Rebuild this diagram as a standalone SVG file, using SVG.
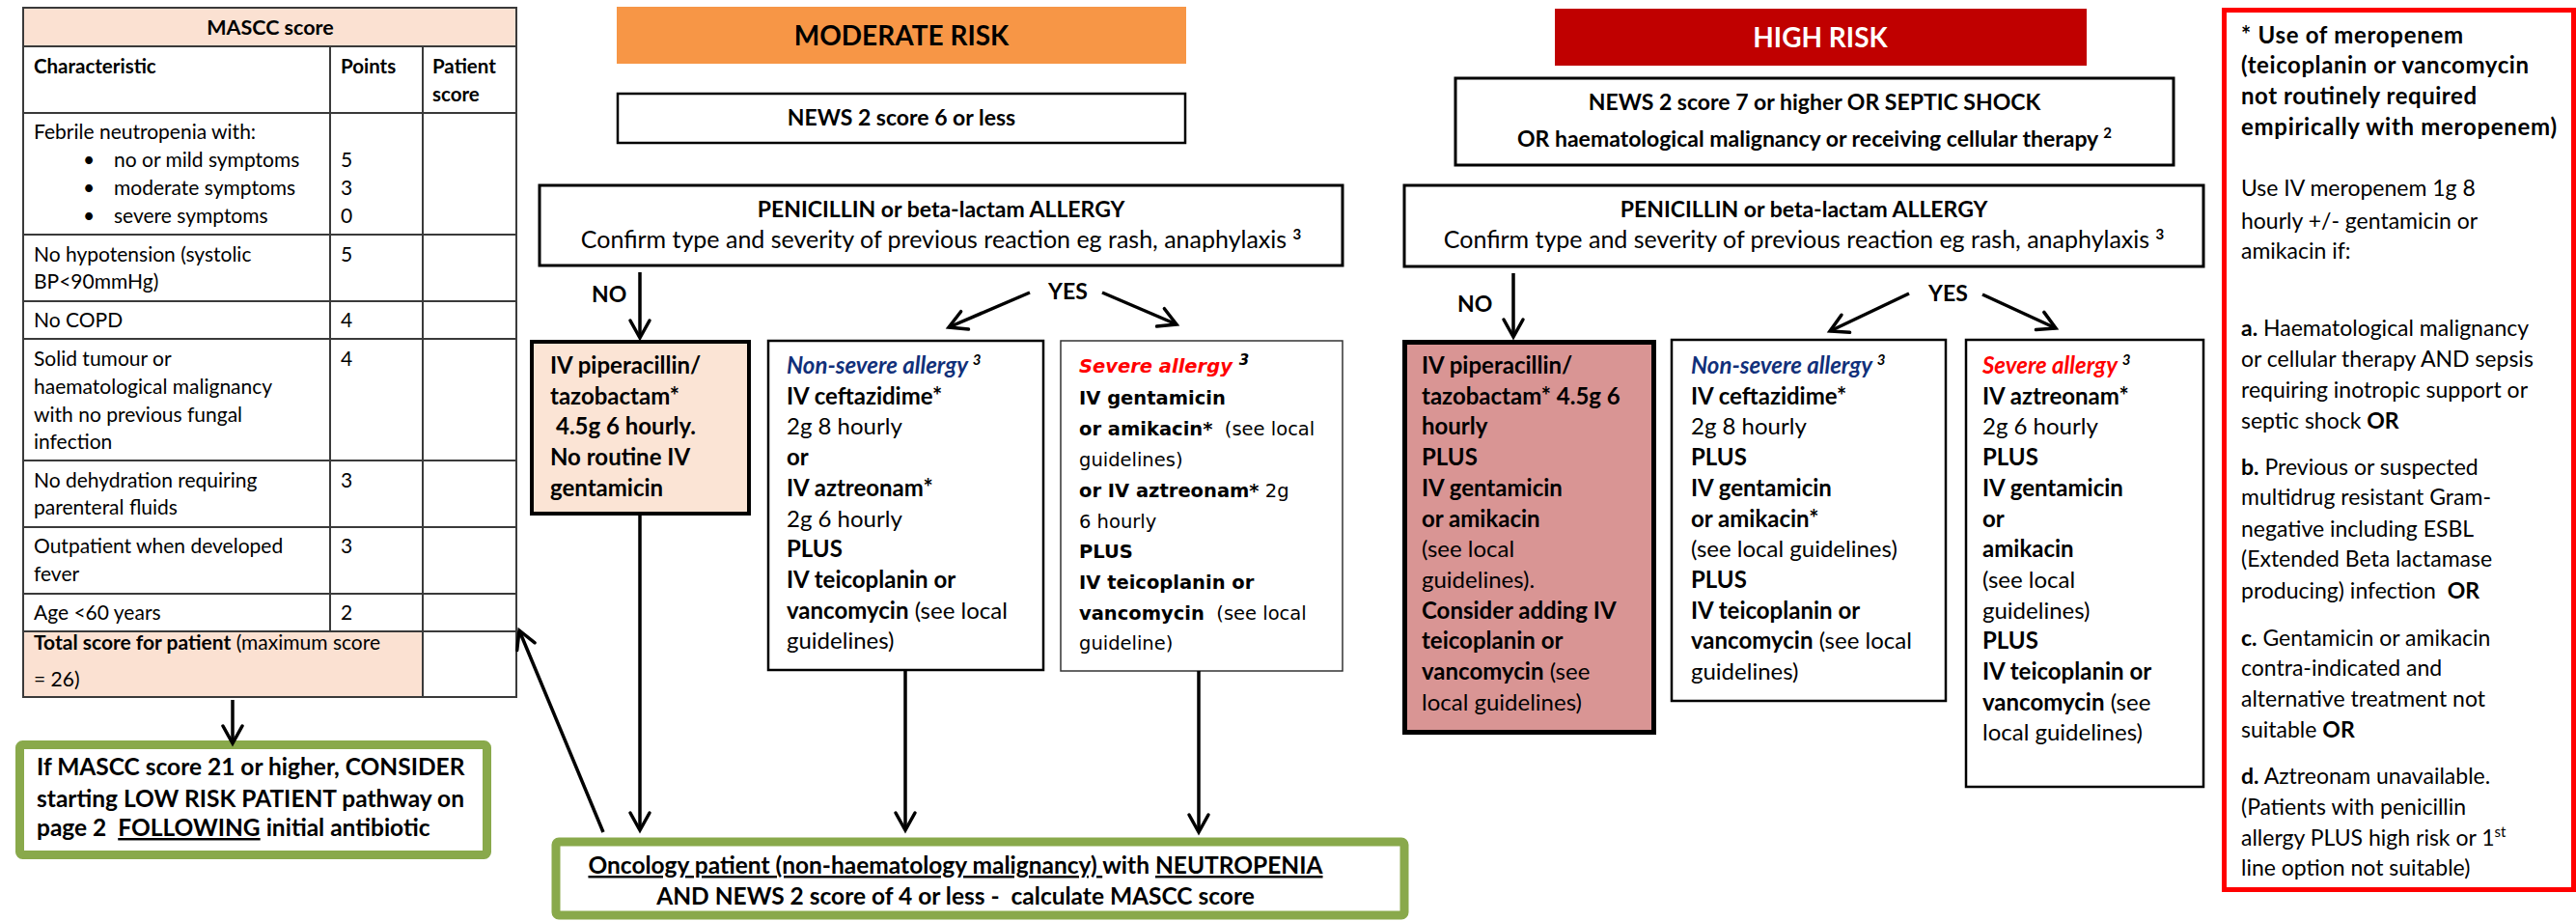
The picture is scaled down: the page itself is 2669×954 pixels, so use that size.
<svg xmlns="http://www.w3.org/2000/svg" width="2669" height="954" viewBox="0 0 2669 954">
<defs>
<style>
text{font-family:Lato,"Liberation Sans",sans-serif;fill:#000;white-space:pre}
.f{font-size:24px}
.h{font-size:23px}
.g{font-size:24.5px}
.m{font-size:21px}
.mb{font-size:20.5px;font-weight:700}
.r{font-size:23px}
.d{font-family:"DejaVu Sans",sans-serif;font-size:19.5px}
.b{font-weight:700}
.it{font-style:italic}
.c{text-anchor:middle}
.navy{fill:#11307A}
.red{fill:#FF0000}
.sup{font-size:15px}
.box{fill:#fff;stroke:#000;stroke-width:2.5}
.grid{stroke:#3a3a3a;stroke-width:2;fill:none}
.con{stroke:#000;stroke-width:3.5;fill:none;marker-end:url(#ah)}
.green{fill:#fff;stroke:#89A94B;stroke-width:9}
.u{text-decoration:underline}
</style>
<marker id="ah" viewBox="-22 -14 26 28" refX="0" refY="0" markerWidth="26" markerHeight="28" markerUnits="userSpaceOnUse" orient="auto">
<path d="M-18,-10 L0,0 L-18,10" fill="none" stroke="#000" stroke-width="3.5" stroke-linecap="round" stroke-linejoin="miter"/>
</marker>
</defs>
<rect width="2669" height="954" fill="#fff"/>

<g id="mascc-table">
<rect x="24" y="8" width="511" height="40" fill="#FBE1D2"/>
<rect x="24" y="654" width="414" height="68" fill="#FBE1D2"/>
<rect x="24" y="8" width="511" height="714" class="grid"/>
<path class="grid" d="M24 48H535M24 117H535M24 243H535M24 312H535M24 351H535M24 477H535M24 546H535M24 615H535M24 654H535M342 48V654M438 48V722"/>
<text class="mb c" style="font-size:21.5px" x="280" y="36">MASCC score</text>
<text class="mb" x="35" y="76">Characteristic</text>
<text class="mb" x="353" y="76">Points</text>
<text class="mb" x="448" y="76">Patient</text>
<text class="mb" x="448" y="105">score</text>
<text class="m" x="35" y="144">Febrile neutropenia with:</text>
<text class="m" x="86" y="173">•</text><text class="m" x="118" y="173">no or mild symptoms</text><text class="m" x="353" y="173">5</text>
<text class="m" x="86" y="202">•</text><text class="m" x="118" y="202">moderate symptoms</text><text class="m" x="353" y="202">3</text>
<text class="m" x="86" y="231">•</text><text class="m" x="118" y="231">severe symptoms</text><text class="m" x="353" y="231">0</text>
<text class="m" x="35" y="271">No hypotension (systolic</text><text class="m" x="353" y="271">5</text>
<text class="m" x="35" y="299">BP&lt;90mmHg)</text>
<text class="m" x="35" y="339">No COPD</text><text class="m" x="353" y="339">4</text>
<text class="m" x="35" y="379">Solid tumour or</text><text class="m" x="353" y="379">4</text>
<text class="m" x="35" y="408">haematological malignancy</text>
<text class="m" x="35" y="437">with no previous fungal</text>
<text class="m" x="35" y="465">infection</text>
<text class="m" x="35" y="505">No dehydration requiring</text><text class="m" x="353" y="505">3</text>
<text class="m" x="35" y="533">parenteral fluids</text>
<text class="m" x="35" y="573">Outpatient when developed</text><text class="m" x="353" y="573">3</text>
<text class="m" x="35" y="602">fever</text>
<text class="m" x="35" y="642">Age &lt;60 years</text><text class="m" x="353" y="642">2</text>
<text class="m" x="35" y="673"><tspan class="b">Total score for patient</tspan> (maximum score</text>
<text class="m" x="35" y="711">= 26)</text>
</g>

<g id="mascc-low-risk">
<rect x="20.5" y="771.5" width="484" height="114" rx="3" class="green"/>
<text class="g b" x="38" y="803">If MASCC score 21 or higher, CONSIDER</text>
<text class="g b" x="38" y="836">starting LOW RISK PATIENT pathway on</text>
<text class="g b" x="38" y="866">page 2  <tspan class="u">FOLLOWING</tspan> initial antibiotic</text>
</g>

<g id="oncology-start">
<rect x="576" y="872" width="879" height="76" rx="3" class="green"/>
<text class="g b c" x="990" y="905"><tspan class="u">Oncology patient (non-haematology malignancy) </tspan>with <tspan class="u">NEUTROPENIA</tspan></text>
<text class="g b c" x="990" y="937">AND NEWS 2 score of 4 or less -  calculate MASCC score</text>
</g>

<g id="moderate-risk-header">
<rect x="639" y="7" width="590" height="59" fill="#F79646"/>
<text class="b c" style="font-size:28px" x="934" y="47">MODERATE RISK</text>
</g>
<g id="moderate-news">
<rect x="640" y="97" width="588" height="51" class="box"/>
<text class="h b c" x="934" y="130">NEWS 2 score 6 or less</text>
</g>
<g id="moderate-allergy">
<rect x="559" y="192" width="832" height="83" class="box" style="stroke-width:3"/>
<text class="h b c" x="975" y="225">PENICILLIN or beta-lactam ALLERGY</text>
<text class="c" style="font-size:25px" x="975" y="257">Confirm type and severity of previous reaction eg rash, anaphylaxis <tspan class="b sup" dy="-9">3</tspan></text>
</g>
<g id="moderate-no-allergy">
<rect x="551" y="354" width="225" height="178" fill="#FBE4D5" stroke="#000" stroke-width="4"/>
<text class="f b" x="570" y="387">IV piperacillin/</text>
<text class="f b" x="570" y="418.7">tazobactam*</text>
<text class="f b" x="576" y="450.4">4.5g 6 hourly.</text>
<text class="f b" x="570" y="482.1">No routine IV</text>
<text class="f b" x="570" y="513.8">gentamicin</text>
</g>
<g id="moderate-non-severe">
<rect x="796" y="353" width="285" height="341" class="box"/>
<text class="f b it" x="815" y="387"><tspan class="navy">Non-severe allergy</tspan> <tspan class="sup" dy="-9">3</tspan></text>
<text class="f b" x="815" y="418.7">IV ceftazidime*</text>
<text class="f" x="815" y="450.4">2g 8 hourly</text>
<text class="f b" x="815" y="482.1">or</text>
<text class="f b" x="815" y="513.8">IV aztreonam*</text>
<text class="f" x="815" y="545.5">2g 6 hourly</text>
<text class="f b" x="815" y="577.2">PLUS</text>
<text class="f b" x="815" y="608.9">IV teicoplanin or</text>
<text class="f" x="815" y="640.6"><tspan class="b">vancomycin</tspan> (see local</text>
<text class="f" x="815" y="672.3">guidelines)</text>
</g>
<g id="moderate-severe">
<rect x="1099" y="353" width="292" height="342" fill="#fff" stroke="#333" stroke-width="1.5"/>
<text class="d b it" x="1118" y="386"><tspan class="red">Severe allergy</tspan> <tspan class="sup" dy="-8">3</tspan></text>
<text class="d b" x="1118" y="419">IV gentamicin</text>
<text class="d" x="1118" y="451"><tspan class="b">or amikacin*</tspan>  (see local</text>
<text class="d" x="1118" y="483">guidelines)</text>
<text class="d" x="1118" y="515"><tspan class="b">or IV aztreonam*</tspan> 2g</text>
<text class="d" x="1118" y="547">6 hourly</text>
<text class="d b" x="1118" y="578">PLUS</text>
<text class="d b" x="1118" y="610">IV teicoplanin or</text>
<text class="d" x="1118" y="642"><tspan class="b">vancomycin</tspan>  (see local</text>
<text class="d" x="1118" y="673">guideline)</text>
</g>

<g id="high-risk-header">
<rect x="1611" y="9" width="551" height="59" fill="#C00000"/>
<text class="b c" style="font-size:28px;fill:#fff" x="1886" y="49">HIGH RISK</text>
</g>
<g id="high-news">
<rect x="1508" y="81" width="744" height="90" class="box" style="stroke-width:3"/>
<text class="h b c" x="1880" y="114">NEWS 2 score 7 or higher OR SEPTIC SHOCK</text>
<text class="h b c" x="1880" y="152">OR haematological malignancy or receiving cellular therapy <tspan class="sup" dy="-9">2</tspan></text>
</g>
<g id="high-allergy">
<rect x="1455" y="192" width="828" height="84" class="box" style="stroke-width:3"/>
<text class="h b c" x="1869" y="225">PENICILLIN or beta-lactam ALLERGY</text>
<text class="c" style="font-size:25px" x="1869" y="257">Confirm type and severity of previous reaction eg rash, anaphylaxis <tspan class="b sup" dy="-9">3</tspan></text>
</g>
<g id="high-no-allergy">
<rect x="1455.5" y="354.5" width="258" height="404" fill="#D99594" stroke="#000" stroke-width="5"/>
<text class="f b" x="1473" y="387">IV piperacillin/</text>
<text class="f b" x="1473" y="418.7">tazobactam* 4.5g 6</text>
<text class="f b" x="1473" y="450.4">hourly</text>
<text class="f b" x="1473" y="482.1">PLUS</text>
<text class="f b" x="1473" y="513.8">IV gentamicin</text>
<text class="f b" x="1473" y="545.5">or amikacin</text>
<text class="f" x="1473" y="577.2">(see local</text>
<text class="f" x="1473" y="608.9">guidelines).</text>
<text class="f b" x="1473" y="640.6">Consider adding IV</text>
<text class="f b" x="1473" y="672.3">teicoplanin or</text>
<text class="f" x="1473" y="704"><tspan class="b">vancomycin</tspan> (see</text>
<text class="f" x="1473" y="735.7">local guidelines)</text>
</g>
<g id="high-non-severe">
<rect x="1732" y="352" width="284" height="374" class="box"/>
<text class="f b it" x="1752" y="387"><tspan class="navy">Non-severe allergy</tspan> <tspan class="sup" dy="-9">3</tspan></text>
<text class="f b" x="1752" y="418.7">IV ceftazidime*</text>
<text class="f" x="1752" y="450.4">2g 8 hourly</text>
<text class="f b" x="1752" y="482.1">PLUS</text>
<text class="f b" x="1752" y="513.8">IV gentamicin</text>
<text class="f b" x="1752" y="545.5">or amikacin*</text>
<text class="f" x="1752" y="577.2">(see local guidelines)</text>
<text class="f b" x="1752" y="608.9">PLUS</text>
<text class="f b" x="1752" y="640.6">IV teicoplanin or</text>
<text class="f" x="1752" y="672.3"><tspan class="b">vancomycin</tspan> (see local</text>
<text class="f" x="1752" y="704">guidelines)</text>
</g>
<g id="high-severe">
<rect x="2037" y="352" width="246" height="463" class="box"/>
<text class="f b it" x="2054" y="387"><tspan class="red">Severe allergy</tspan> <tspan class="sup" dy="-9">3</tspan></text>
<text class="f b" x="2054" y="418.7">IV aztreonam*</text>
<text class="f" x="2054" y="450.4">2g 6 hourly</text>
<text class="f b" x="2054" y="482.1">PLUS</text>
<text class="f b" x="2054" y="513.8">IV gentamicin</text>
<text class="f b" x="2054" y="545.5">or</text>
<text class="f b" x="2054" y="577.2">amikacin</text>
<text class="f" x="2054" y="608.9">(see local</text>
<text class="f" x="2054" y="640.6">guidelines)</text>
<text class="f b" x="2054" y="672.3">PLUS</text>
<text class="f b" x="2054" y="704">IV teicoplanin or</text>
<text class="f" x="2054" y="735.7"><tspan class="b">vancomycin</tspan> (see</text>
<text class="f" x="2054" y="767.4">local guidelines)</text>
</g>

<g id="meropenem-note">
<rect x="2304.5" y="10.5" width="362" height="911" fill="#fff" stroke="#FF0000" stroke-width="5"/>
<text class="r b" style="font-size:24px" x="2322" y="45" textLength="230">* Use of meropenem</text>
<text class="r b" style="font-size:24px" x="2322" y="76" textLength="298">(teicoplanin or vancomycin</text>
<text class="r b" style="font-size:24px" x="2322" y="108" textLength="244">not routinely required</text>
<text class="r b" style="font-size:24px" x="2322" y="140" textLength="327">empirically with meropenem)</text>
<text class="r" x="2322" y="203">Use IV meropenem 1g 8</text>
<text class="r" x="2322" y="237">hourly +/- gentamicin or</text>
<text class="r" x="2322" y="268">amikacin if:</text>
<text class="r" x="2322" y="348"><tspan class="b">a.</tspan> Haematological malignancy</text>
<text class="r" x="2322" y="380">or cellular therapy AND sepsis</text>
<text class="r" x="2322" y="412">requiring inotropic support or</text>
<text class="r" x="2322" y="444">septic shock <tspan class="b">OR</tspan></text>
<text class="r" x="2322" y="492"><tspan class="b">b.</tspan> Previous or suspected</text>
<text class="r" x="2322" y="523">multidrug resistant Gram-</text>
<text class="r" x="2322" y="556">negative including ESBL</text>
<text class="r" x="2322" y="587">(Extended Beta lactamase</text>
<text class="r" x="2322" y="620">producing) infection  <tspan class="b">OR</tspan></text>
<text class="r" x="2322" y="669"><tspan class="b">c.</tspan> Gentamicin or amikacin</text>
<text class="r" x="2322" y="700">contra-indicated and</text>
<text class="r" x="2322" y="732">alternative treatment not</text>
<text class="r" x="2322" y="764">suitable <tspan class="b">OR</tspan></text>
<text class="r" x="2322" y="812"><tspan class="b">d.</tspan> Aztreonam unavailable.</text>
<text class="r" x="2322" y="844">(Patients with penicillin</text>
<text class="r" x="2322" y="876">allergy PLUS high risk or 1<tspan class="sup" dy="-9">st</tspan></text>
<text class="r" x="2322" y="907">line option not suitable)</text>
</g>

<g id="labels">
<text class="h b" x="613" y="313">NO</text>
<text class="h b" x="1086" y="310">YES</text>
<text class="h b" x="1510" y="323">NO</text>
<text class="h b" x="1998" y="312">YES</text>
</g>

<g id="connectors">
<line class="con" x1="663" y1="282" x2="663" y2="350"/>
<line class="con" x1="1067" y1="303" x2="983" y2="339"/>
<line class="con" x1="1142" y1="303" x2="1219" y2="336"/>
<line class="con" x1="1568" y1="283" x2="1568" y2="349"/>
<line class="con" x1="1978" y1="304" x2="1896" y2="343"/>
<line class="con" x1="2054" y1="305" x2="2130" y2="340"/>
<line class="con" x1="663" y1="534" x2="663" y2="860"/>
<line class="con" x1="938" y1="694" x2="938" y2="860"/>
<line class="con" x1="1242" y1="695" x2="1242" y2="862"/>
<line class="con" x1="625" y1="862" x2="538" y2="653"/>
<line class="con" x1="241" y1="725" x2="241" y2="770"/>
</g>
</svg>
